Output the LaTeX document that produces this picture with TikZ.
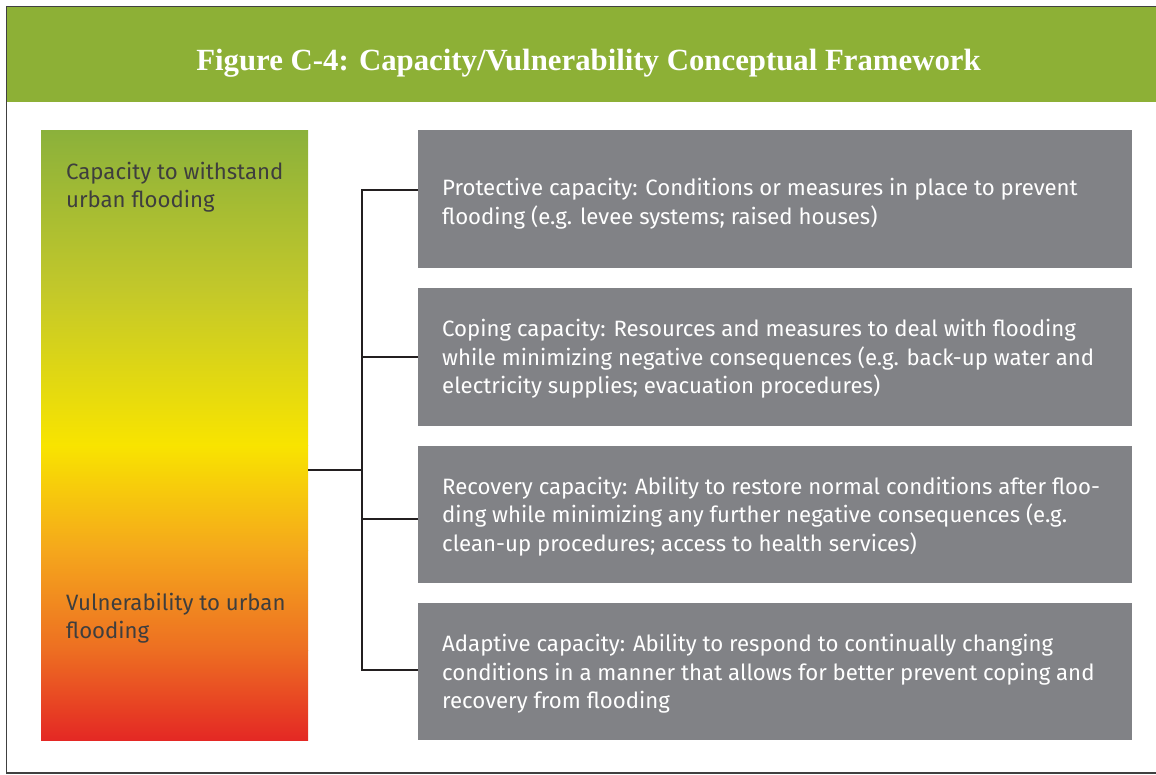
\documentclass[tikz,border=0pt]{standalone}
\usepackage{fontspec}
\setmainfont{Fira Sans}
\newfontfamily\titlefont{Liberation Serif}
\definecolor{hdrgreen}{HTML}{8DB036}
\definecolor{boxgray}{HTML}{818286}
\definecolor{frameline}{HTML}{404040}
\definecolor{conn}{HTML}{231F20}
\definecolor{bartext}{HTML}{3E3E3E}
\definecolor{gA}{HTML}{8BB13B}
\definecolor{gB}{HTML}{C3C82A}
\definecolor{gC}{HTML}{F8E400}
\definecolor{gD}{HTML}{F5A71C}
\definecolor{gE}{HTML}{ED6E22}
\definecolor{gF}{HTML}{E42824}
\tikzset{
  capbox/.style={fill=boxgray, draw=none, minimum width=714pt, minimum height=137.5pt, inner sep=0pt, anchor=north west},
  captext/.style={text=white, align=left, anchor=west, inner sep=0pt, font=\fontsize{22.2pt}{28.7pt}\selectfont},
  bartxt/.style={text=bartext, align=left, anchor=north west, inner sep=0pt, font=\fontsize{22.2pt}{28pt}\selectfont},
  connline/.style={draw=conn, line width=2.2pt},
}
\begin{document}
\begin{tikzpicture}[x=1pt,y=-1pt]
\useasboundingbox (0,0) rectangle (1156,774);
% frame
\draw[frameline, line width=1.5pt] (1160,6.5) -- (6.5,6.5) -- (6.5,773) -- (1160,773);
% header
\fill[hdrgreen] (7.3,7.3) rectangle (1156,101.5);
\node[anchor=base, text=white, inner sep=0pt, font=\titlefont\bfseries\fontsize{30.8pt}{34pt}\selectfont] (title) at (588.5,70) {Figure C-4: Capacity/Vulnerability Conceptual Framework};
% gradient bar
\shade[top color=gA, bottom color=gB] (41,130) rectangle (308,290.5);
\shade[top color=gB, bottom color=gC] (41,290) rectangle (308,445.5);
\shade[top color=gC, bottom color=gD] (41,445) rectangle (308,550.5);
\shade[top color=gD, bottom color=gE] (41,550) rectangle (308,650.5);
\shade[top color=gE, bottom color=gF] (41,650) rectangle (308,740);
\node[draw=none, minimum width=267pt, minimum height=610pt, inner sep=0pt, anchor=north west] (bar) at (41,130) {};
\node[bartxt] (t1) at (66,161.5) {Capacity to withstand\\urban flooding};
\node[bartxt] (t2) at (66,593) {Vulnerability to urban\\flooding};
% boxes
\node[capbox] (b1) at (418,130) {};
\node[capbox] (b2) at (418,288) {};
\node[capbox] (b3) at (418,445.5) {};
\node[capbox] (b4) at (418,602.5) {};
\node[captext] (c1) at ([xshift=24pt,yshift=-4.5pt]b1.west) {Protective capacity: Conditions or measures in place to prevent\\flooding (e.g. levee systems; raised houses)};
\node[captext] (c2) at ([xshift=24pt,yshift=-2pt]b2.west) {Coping capacity: Resources and measures to deal with flooding\\while minimizing negative consequences (e.g. back-up water and\\electricity supplies; evacuation procedures)};
\node[captext] (c3) at ([xshift=24pt,yshift=-2pt]b3.west) {Recovery capacity: Ability to restore normal conditions after floo-\\ding while minimizing any further negative consequences (e.g.\\clean-up procedures; access to health services)};
\node[captext] (c4) at ([xshift=24pt,yshift=-2.5pt]b4.west) {Adaptive capacity: Ability to respond to continually changing\\conditions in a manner that allows for better prevent coping and\\recovery from flooding};
% connectors
\coordinate (j) at (362,470);
\coordinate (k1) at (362,190);
\coordinate (k2) at (362,357);
\coordinate (k3) at (362,519);
\coordinate (k4) at (362,670);
\draw[connline] (bar.east |- j) -- (j);
\draw[connline, line cap=rect] (k1) -- (k4);
\draw[connline] (k1) -- (k1 -| b1.west);
\draw[connline] (k2) -- (k2 -| b2.west);
\draw[connline] (k3) -- (k3 -| b3.west);
\draw[connline] (k4) -- (k4 -| b4.west);
\end{tikzpicture}
\end{document}
